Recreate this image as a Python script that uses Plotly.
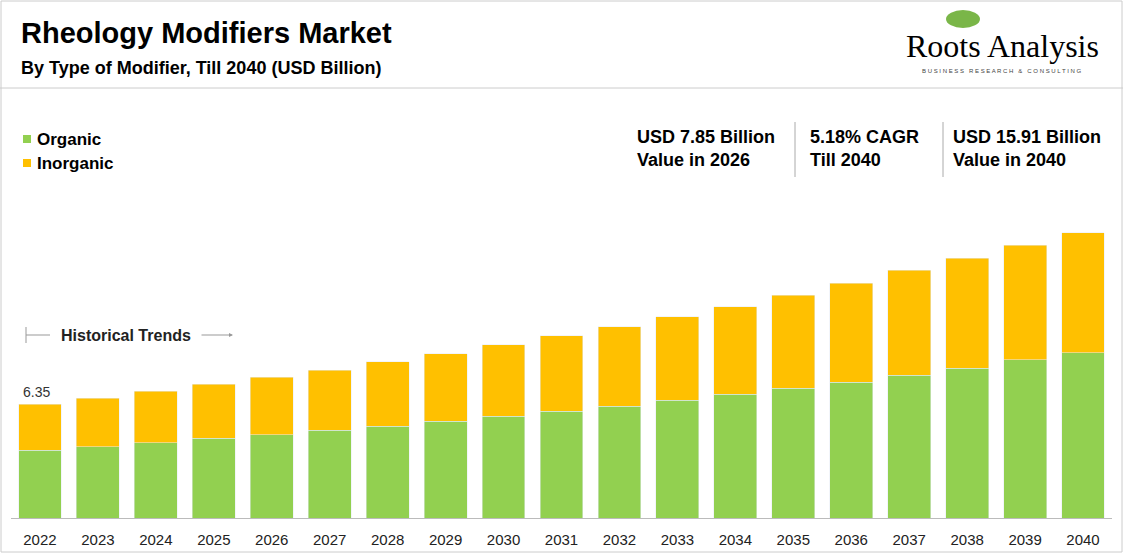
import plotly.graph_objects as go

years = [str(y) for y in range(2022, 2041)]
organic = [3.77, 3.99, 4.21, 4.44, 4.66, 4.89, 5.11, 5.39, 5.67, 5.96, 6.24, 6.57, 6.91, 7.25, 7.58, 7.98, 8.37, 8.82, 9.22]
total = [6.35, 6.69, 7.08, 7.47, 7.85, 8.26, 8.71, 9.16, 9.66, 10.17, 10.67, 11.24, 11.80, 12.42, 13.09, 13.82, 14.49, 15.22, 15.91]
inorganic = [round(t - o, 2) for t, o in zip(total, organic)]

fig = go.Figure()
fig.add_bar(x=years, y=organic, name="Organic", marker_color="#92d050")
fig.add_bar(x=years, y=inorganic, name="Inorganic", marker_color="#ffc000")
fig.add_annotation(x=0, y=total[0], text="%.2f" % total[0], showarrow=False, yshift=12, xshift=-3,
                   font=dict(size=14, color="#333"))

fig.update_layout(
    barmode="stack", bargap=0.26, width=1123, height=553,
    margin=dict(l=11, r=11, t=88, b=35, autoexpand=False),
    paper_bgcolor="white", plot_bgcolor="white",
    font=dict(family="Liberation Sans, Arial", color="black"),
    showlegend=False,
    xaxis=dict(type="category", range=[-0.5, 18.5], showline=True, linecolor="#bbb", ticks="",
               ticklabelstandoff=8, tickfont=dict(size=15, color="#222")),
    yaxis=dict(range=[0, 24.0], visible=False),
)
def px(x, y):
    return (x - 11) / 1101, (518 - y) / 430
# legend
for i, (nm, c) in enumerate([("Organic", "#92d050"), ("Inorganic", "#ffc000")]):
    yy = 139 + 24 * i
    fig.add_shape(type="rect", xref="paper", yref="paper", x0=px(23,0)[0], x1=px(31,0)[0],
                  y0=px(0,yy+4)[1], y1=px(0,yy-4)[1], fillcolor=c, line_width=0)
    fig.add_annotation(xref="paper", yref="paper", x=px(35,0)[0], y=px(0,yy)[1], text="<b>%s</b>" % nm,
                       showarrow=False, xanchor="left", yanchor="middle", font=dict(size=17))
# header
for x, y, t, s in [(19, 33, "<b>Rheology Modifiers Market</b>", 29), (19, 68, "<b>By Type of Modifier, Till 2040 (USD Billion)</b>", 18)]:
    a, b = px(x, y)
    fig.add_annotation(xref="paper", yref="paper", x=a, y=b, text=t, showarrow=False,
                       xanchor="left", yanchor="middle", font=dict(size=s))
a, b = px(1002, 46)
fig.add_annotation(xref="paper", yref="paper", x=a, y=b, text="Roots Analysis", showarrow=False,
                   font=dict(family="Liberation Serif", size=32), xanchor="center", yanchor="middle")
a, b = px(1002, 71)
fig.add_annotation(xref="paper", yref="paper", x=a, y=b, text="B U S I N E S S   R E S E A R C H   &amp;   C O N S U L T I N G", showarrow=False,
                   font=dict(size=6, color="#444"), xanchor="center", yanchor="middle")
a0, b0 = px(946, 10); a1, b1 = px(980, 28)
fig.add_shape(type="circle", xref="paper", yref="paper", x0=a0, x1=a1, y0=b1, y1=b0, fillcolor="#7ab648", line_width=0)
# header separator and border
fig.add_shape(type="line", xref="paper", yref="paper", x0=px(0,0)[0], x1=px(1123,0)[0], y0=px(0,88)[1], y1=px(0,88)[1], line=dict(color="#ccc", width=1))
fig.add_shape(type="rect", xref="paper", yref="paper", x0=px(1,0)[0], x1=px(1122,0)[0], y0=px(0,552)[1], y1=px(0,1)[1], line=dict(color="#ccc", width=1))
# stats
for x, t in [(635, "USD 7.85 Billion<br>Value in 2026"), (808, "5.18% CAGR<br>Till 2040"), (951, "USD 15.91 Billion<br>Value in 2040")]:
    a, b = px(x, 148)
    fig.add_annotation(xref="paper", yref="paper", x=a, y=b, text="<b>%s</b>" % t, showarrow=False,
                       xanchor="left", yanchor="middle", align="left", font=dict(size=18))
for x in [795, 943]:
    fig.add_shape(type="line", xref="paper", yref="paper", x0=px(x,0)[0], x1=px(x,0)[0], y0=px(0,122)[1], y1=px(0,177)[1], line=dict(color="#aaa", width=1))
# historical trends
a, b = px(59, 335)
fig.add_annotation(xref="paper", yref="paper", x=a, y=b, text="<b>Historical Trends</b>", showarrow=False,
                   xanchor="left", yanchor="middle", font=dict(size=16, color="#222"))
fig.add_shape(type="line", xref="paper", yref="paper", x0=px(26,0)[0], x1=px(50,0)[0], y0=b, y1=b, line=dict(color="#999", width=1))
fig.add_shape(type="line", xref="paper", yref="paper", x0=px(26,0)[0], x1=px(26,0)[0], y0=px(0,327)[1], y1=px(0,343)[1], line=dict(color="#999", width=1))
fig.add_annotation(xref="paper", yref="paper", axref="pixel", ayref="pixel", x=px(233,0)[0], y=b, ax=-33, ay=0,
                   text="", showarrow=True, arrowhead=2, arrowsize=0.8, arrowwidth=1, arrowcolor="#999")
fig.write_html("out.html", config={"displayModeBar": False})
with open("out.html") as f:
    html = f.read()
html = html.replace("<head>", "<head><style>body{margin:0;padding:0}</style>", 1)
with open("out.html", "w") as f:
    f.write(html)
